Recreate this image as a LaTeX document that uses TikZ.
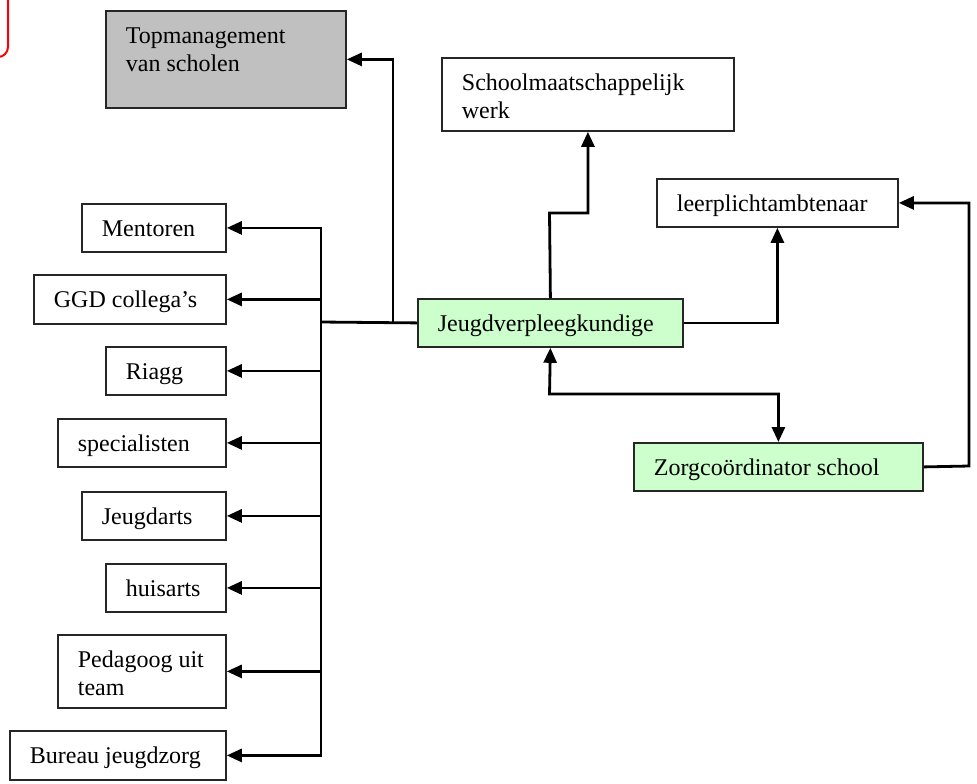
\documentclass[tikz,border=0pt]{standalone}
\usepackage{fontspec}
\setmainfont{Liberation Serif}
\usetikzlibrary{arrows.meta}
\definecolor{tmgray}{HTML}{C0C0C0}
\definecolor{lgreen}{HTML}{CCFFCC}
\begin{document}
\begin{tikzpicture}[x=0.5pt,y=-0.5pt,
  box/.style={draw=black!85, line width=0.9pt, anchor=north west, inner xsep=10pt, inner ysep=0pt,
    align=flush left, text height=16.5pt, text depth=7.5pt, font=\fontsize{12}{14}\selectfont},
  conn/.style={line width=1.4pt},
  arr/.style={conn,-{Triangle[length=7.5pt,width=6.5pt]}},
  darr/.style={conn,{Triangle[length=7.5pt,width=6.5pt]}-{Triangle[length=7.5pt,width=6.5pt]}}]
\useasboundingbox (0,0) rectangle (977,783);
\begin{scope}
  \clip (0,0) rectangle (977,783);
  \draw[red, line width=1pt, rounded corners=5pt] (-40,-20) rectangle (8,57);
\end{scope}

% boxes
\node[box, fill=tmgray, text width=100pt, text depth=32pt] (tm) at (105,10) {Topmanagement\\van~scholen};
\node[box, text width=126pt, text depth=20pt] (smw) at (441,57) {Schoolmaatschappelijk\\werk};
\node[box, text width=100.5pt] (lpa) at (656,178) {leerplichtambtenaar};
\node[box, fill=lgreen, text width=112.5pt] (jvk) at (417,298) {Jeugdverpleegkundige};
\node[box, fill=lgreen, text width=124.5pt] (zcs) at (633,442) {Zorgcoördinator~school};

\node[box, text width=52pt] (ment) at (81,203) {Mentoren};
\node[box, text width=76pt, text depth=8pt] (ggd) at (33,274) {GGD~collega’s};
\node[box, text width=40pt] (riagg) at (105,346) {Riagg};
\node[box, text width=64pt] (spec) at (57,418) {specialisten};
\node[box, text width=52pt] (jarts) at (81,491) {Jeugdarts};
\node[box, text width=40pt] (huis) at (105,563) {huisarts};
\node[box, text width=64pt, text depth=20pt] (ped) at (57,634) {Pedagoog~uit\\team};
\node[box, text width=88pt, text depth=8pt] (bur) at (9,730) {Bureau~jeugdzorg};

% bend points
\coordinate (bj) at (321,322);
\coordinate (tj) at (393,322);
\coordinate (s1) at (549.5,213);
\coordinate (r1) at (969,466);
\coordinate (m1) at (549.5,394);

% connectors
\draw[conn] (jvk.west) -- (bj);
\draw[arr] (tj) |- (tm.east);
\draw[arr] (bj) |- (ment.east);
\draw[arr] (bj) |- (bur.east);
\foreach \n in {ggd,riagg,spec,jarts,huis,ped}
  \draw[arr] (bj |- \n.east) -- (\n.east);
\draw[arr] (jvk.north) -- (s1) -| (smw.south);
\draw[arr] (jvk.east) -| (lpa.south);
\draw[arr] (zcs.east) -- (r1) |- (lpa.east);
\draw[darr] (jvk.south) -- (m1) -| (zcs.north);
\end{tikzpicture}
\end{document}
